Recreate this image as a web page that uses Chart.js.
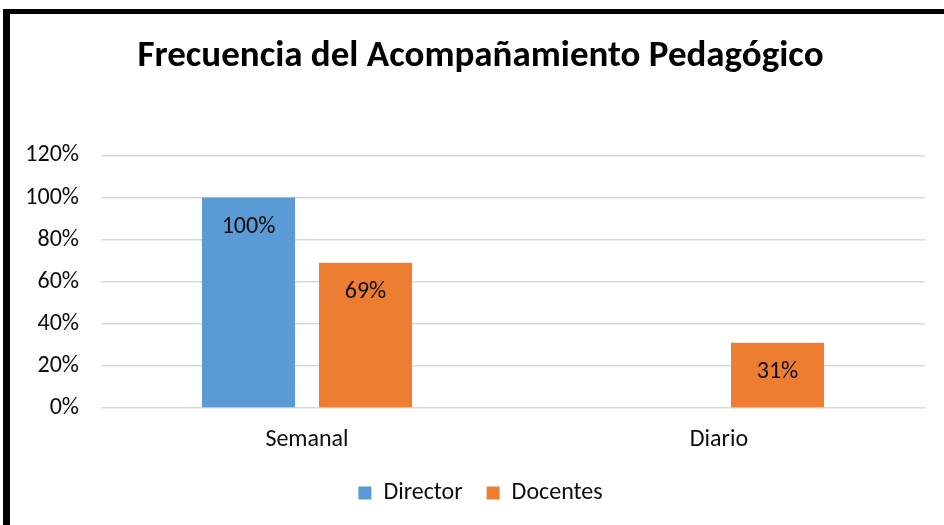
<!DOCTYPE html>
<html>
<head>
<meta charset="utf-8">
<script src="https://cdn.jsdelivr.net/npm/chart.js@4"></script>
<style>
  html, body { margin: 0; padding: 0; background: #fff; }
  #wrap { position: relative; width: 944px; height: 525px; }
</style>
</head>
<body>
<div id="wrap"><canvas id="freqChart" width="944" height="525"></canvas></div>
<script>
// ---- data ----
const categories = ['Semanal', 'Diario'];
const directorValues = [100, 0];
const docentesValues = [69, 31];
const yTicks = [0, 20, 40, 60, 80, 100, 120];

const FONT = "Carlito, Lato, 'Liberation Sans', sans-serif";
const TEXT = '#0d0d0d';

// black frame on left and top (the right/bottom edges are cropped off in the original)
const framePlugin = {
    id: 'frame',
    beforeDraw(chart) {
        const { ctx } = chart;
        ctx.save();
        ctx.fillStyle = '#fff';
        ctx.fillRect(0, 0, chart.width, chart.height);
        ctx.fillStyle = '#000';
        ctx.fillRect(3, 9, 7, chart.height - 9);
        ctx.fillRect(3, 9, chart.width - 3, 5);
        ctx.restore();
    }
};

// the original centres title + legend a bit right of the plot, nudge those boxes
const centreShift = {
    id: 'centreShift',
    afterLayout(chart) {
        const dx = 13;
        [chart.titleBlock, chart.legend].forEach(box => {
            if (!box) return;
            box.left += dx;
            box.right += dx;
        });
    }
};

// percentage labels drawn inside the bars, near the top
const valueLabels = {
    id: 'valueLabels',
    afterDatasetsDraw(chart) {
        const { ctx } = chart;
        ctx.save();
        ctx.font = '24px ' + FONT;
        ctx.fillStyle = TEXT;
        ctx.textAlign = 'center';
        ctx.textBaseline = 'middle';
        chart.data.datasets.forEach((ds, di) => {
            const meta = chart.getDatasetMeta(di);
            meta.data.forEach((bar, i) => {
                const v = ds.data[i];
                if (!v) return;
                ctx.fillText(v + '%', bar.x, bar.y + 29);
            });
        });
        ctx.restore();
    }
};

new Chart(document.getElementById('freqChart').getContext('2d'), {
    type: 'bar',
    data: {
        labels: categories,
        datasets: [
            {
                label: 'Director',
                data: directorValues,
                backgroundColor: '#5b9bd5',
                categoryPercentage: 0.568,
                barPercentage: 0.795
            },
            {
                label: 'Docentes',
                data: docentesValues,
                backgroundColor: '#ed7d31',
                categoryPercentage: 0.568,
                barPercentage: 0.795
            }
        ]
    },
    options: {
        responsive: false,
        animation: false,
        layout: { padding: { left: 10, right: 19, top: 14, bottom: 10 } },
        scales: {
            y: {
                min: 0,
                max: 120,
                afterBuildTicks(scale) { scale.ticks = yTicks.map(v => ({ value: v })); },
                afterFit(scale) { scale.width = 91; },
                ticks: {
                    padding: 22,
                    color: TEXT,
                    font: { size: 24, family: FONT },
                    callback: v => v + '%'
                },
                grid: { color: '#d9d9d9', lineWidth: 1.5, drawTicks: false },
                border: { display: false }
            },
            x: {
                afterFit(scale) { scale.height = 49; },
                ticks: {
                    padding: 10,
                    color: TEXT,
                    font: { size: 24, family: FONT }
                },
                grid: { display: false },
                border: { display: false }
            }
        },
        plugins: {
            title: {
                display: true,
                text: 'Frecuencia del Acompañamiento Pedagógico',
                color: '#000',
                font: { size: 37, weight: 'bold', family: FONT },
                padding: { top: 21, bottom: 76 }
            },
            legend: {
                position: 'bottom',
                labels: {
                    boxWidth: 13,
                    boxHeight: 13,
                    padding: 24,
                    color: TEXT,
                    font: { size: 24, family: FONT }
                }
            },
            tooltip: { enabled: false }
        }
    },
    plugins: [framePlugin, centreShift, valueLabels]
});
</script>
</body>
</html>
